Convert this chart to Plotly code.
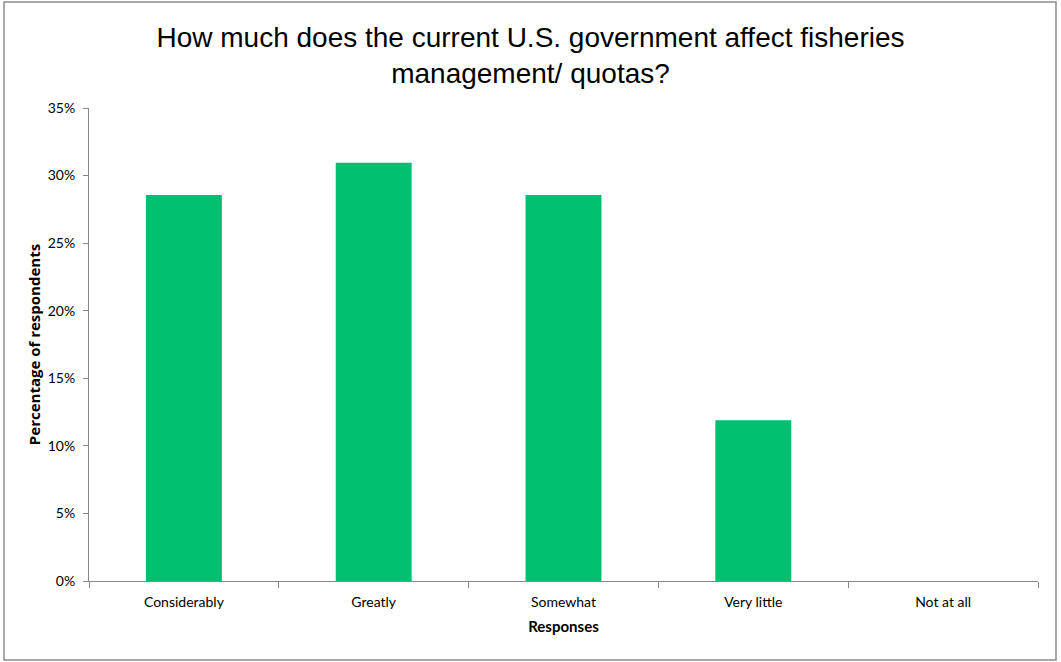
import plotly.graph_objects as go

categories = ["Considerably", "Greatly", "Somewhat", "Very little", "Not at all"]
values = [0.2857, 0.3095, 0.2857, 0.119, 0.0]
y_ticks = [0, 0.05, 0.10, 0.15, 0.20, 0.25, 0.30, 0.35]
y_tick_labels = ["0%", "5%", "10%", "15%", "20%", "25%", "30%", "35%"]

W, H = 1061, 662
L, R, T, B = 89, 23, 108, 81
pw, ph = W - L - R, H - T - B

fig = go.Figure(go.Bar(x=categories, y=values, marker=dict(color="#00BF6F", line=dict(width=0)),
                       width=0.4, hoverinfo="skip"))

axis_color = "#878787"
fig.update_layout(
    width=W, height=H,
    paper_bgcolor="white", plot_bgcolor="white",
    margin=dict(l=L, r=R, t=T, b=B),
    title=dict(text="How much does the current U.S. government affect fisheries<br>management/ quotas?",
               x=0.5, xanchor="center", y=1 - 47 / H, yanchor="top",
               font=dict(family="Liberation Sans, Arial", size=28, color="black")),
    font=dict(family="Lato, Open Sans", size=14, color="black"),
    showlegend=False,
    xaxis=dict(showline=True, linecolor=axis_color, linewidth=1, ticks="outside", ticklen=6,
               tickcolor=axis_color, tickson="boundaries", showgrid=False, ticklabelstandoff=8,
               title=dict(text="<b>Responses</b>", font=dict(size=15), standoff=12),
               tickfont=dict(size=14)),
    yaxis=dict(range=[0, 0.35], tickvals=y_ticks, ticktext=y_tick_labels, showline=True,
               linecolor=axis_color, linewidth=1, ticks="outside", ticklen=5, tickcolor=axis_color,
               showgrid=False, zeroline=False, ticklabelstandoff=5,
               title=dict(text="<b>Percentage of respondents</b>",
                          font=dict(family="Open Sans", size=15), standoff=3),
               tickfont=dict(size=14)),
    shapes=[dict(type="rect", xref="paper", yref="paper",
                 x0=(4 - L) / pw, x1=(1056 - L) / pw,
                 y0=-(660 - (H - B)) / ph, y1=((H - B) - 2) / ph,
                 line=dict(color="#8c8c8c", width=1.5),
                 fillcolor="rgba(0,0,0,0)", layer="below")],
)

fig.write_html("out.html", config={"displayModeBar": False},
               post_script="document.body.style.margin='0';document.body.style.overflow='hidden';")
